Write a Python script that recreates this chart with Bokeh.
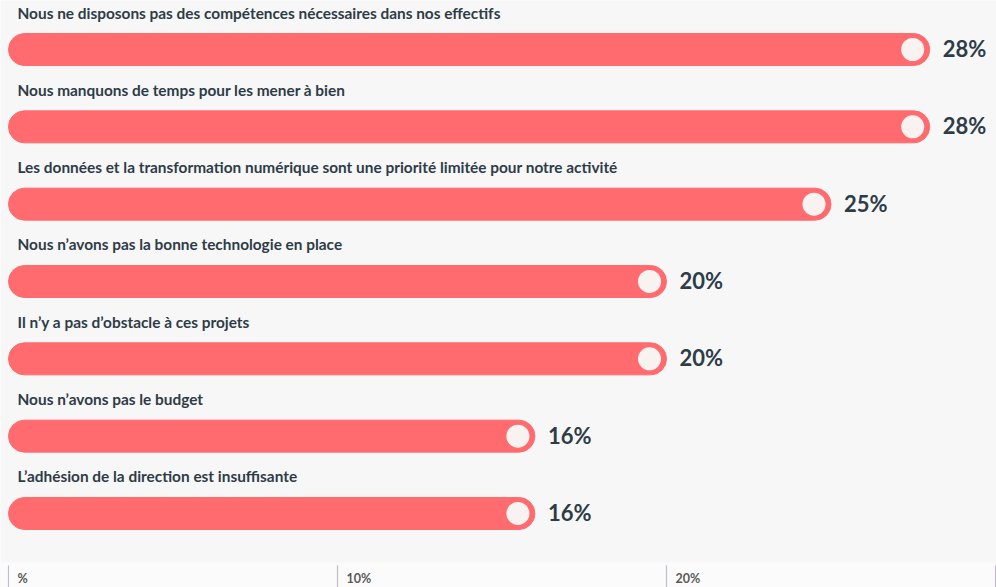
from bokeh.plotting import figure
from bokeh.models import Range1d, ColumnDataSource, BoxAnnotation
from bokeh.core.properties import value
from bokeh.embed import file_html
from bokeh.resources import INLINE

categories = [
    "Nous ne disposons pas des compétences nécessaires dans nos effectifs",
    "Nous manquons de temps pour les mener à bien",
    "Les données et la transformation numérique sont une priorité limitée pour notre activité",
    "Nous n’avons pas la bonne technologie en place",
    "Il n’y a pas d’obstacle à ces projets",
    "Nous n’avons pas le budget",
    "L’adhésion de la direction est insuffisante",
]
values = [28, 28, 25, 20, 20, 16, 16]
tick_values = [0, 10, 20, 30]
tick_labels = ["%", "10%", "20%", ""]

W, H = 996, 587
PX_PER_UNIT = 32.9
X0_PX = 8
ROW0_PX = 49
ROW_PX = 77.33

def row_at(px):
    return (px - ROW0_PX) / ROW_PX

rows = list(range(len(categories)))
src = ColumnDataSource(dict(
    y=rows,
    v=values,
    cat=categories,
    lab=[f"{v}%" for v in values],
    cx=[v - 17 / PX_PER_UNIT for v in values],
))

p = figure(width=W, height=H, output_backend="svg", toolbar_location=None,
           x_range=Range1d(-X0_PX / PX_PER_UNIT, (W - X0_PX) / PX_PER_UNIT),
           y_range=Range1d(row_at(H), row_at(0)),
           min_border=0, min_border_left=0, min_border_right=0,
           min_border_top=0, min_border_bottom=0)
p.axis.visible = False
p.grid.visible = False
p.outline_line_color = None
p.background_fill_color = "#f7f7f7"
p.border_fill_color = "#f7f7f7"

p.add_layout(BoxAnnotation(top=row_at(562), fill_color="#fbfbfb", fill_alpha=1,
                           line_color=None, level="underlay"))

bar_h = 32 / ROW_PX
p.hbar(y="y", left=0, right="v", height=bar_h, source=src,
       fill_color="#ff6b6e", line_color="#ff6b6e", line_width=1, border_radius=16)
p.scatter(x="cx", y="y", size=23, source=src, fill_color="#f8f3f0", line_color=None)

p.text(x=0, y="y", text="cat", source=src, x_offset=9, y_offset=-37,
       text_font=value("Lato"), text_font_style="bold", text_font_size="15.4px",
       text_color="#2e3c47", text_baseline="alphabetic", text_align="left")
p.text(x="v", y="y", text="lab", source=src, x_offset=13, y_offset=-1,
       text_font=value("Lato"), text_font_style="bold", text_font_size="22px",
       text_color="#2e3c47", text_baseline="alphabetic", text_align="left")

tick_src = ColumnDataSource(dict(x=tick_values, lab=tick_labels))
p.segment(x0="x", x1="x", y0=row_at(565), y1=row_at(H + 5), source=tick_src,
          line_color="#c0bccb", line_width=1.2)
p.text(x="x", y=row_at(584), text="lab", source=tick_src, x_offset=9, y_offset=-6,
       text_font=value("Lato"), text_font_style="bold", text_font_size="12.5px",
       text_color="#5a5a5a", text_baseline="alphabetic", text_align="left")

open("out.html", "w").write(file_html(p, INLINE))
